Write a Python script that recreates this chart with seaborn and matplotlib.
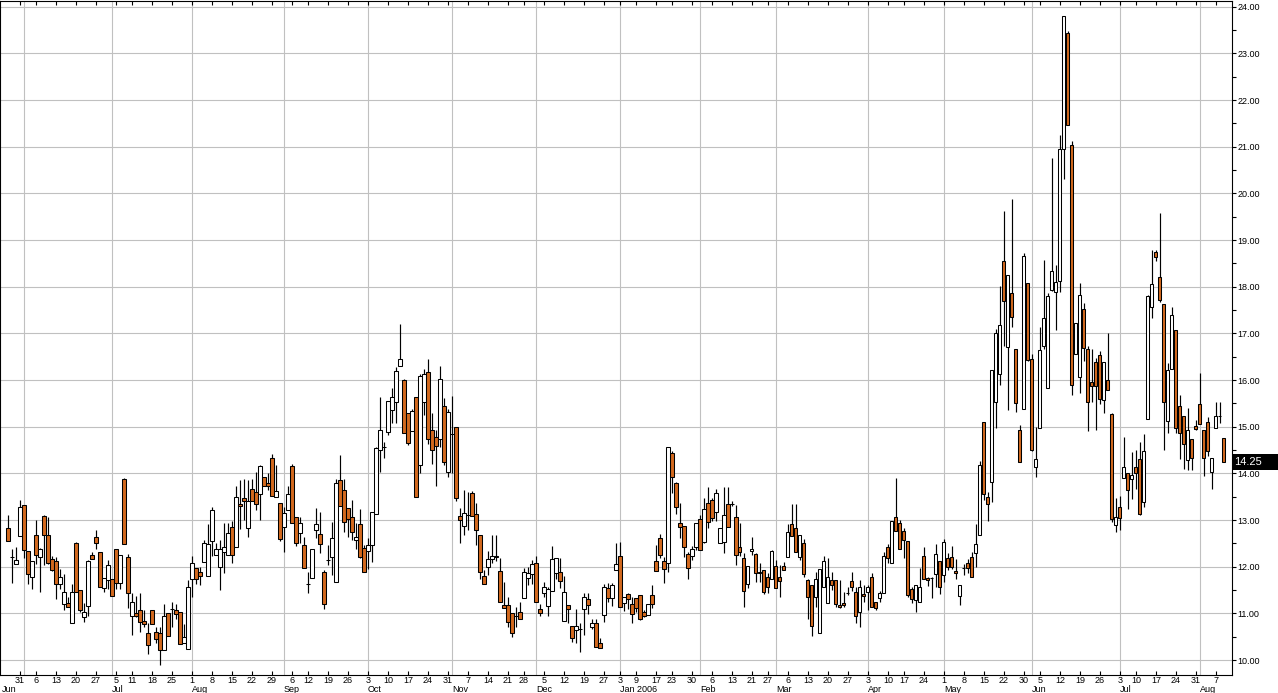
import numpy as np
import pandas as pd
import matplotlib
matplotlib.use("Agg")
import matplotlib.pyplot as plt
import seaborn as sns
from matplotlib.transforms import blended_transform_factory
from matplotlib.patches import Rectangle

# ---------------- data ----------------
start_date = "2005-05-25"
end_date = "2006-08-09"
holidays = ["2005-05-30", "2005-07-04", "2005-09-05", "2005-11-24", "2005-12-26",
            "2006-01-02", "2006-01-16", "2006-02-20", "2006-04-14", "2006-05-29",
            "2006-07-04"]

opens = [
    12.82, 12.21, 12.05, 12.66, 13.33, 12.33, 11.77, 12.67, 12.20, 13.08,
    12.67, 12.16, 12.12, 11.64, 11.21, 11.23, 10.80, 12.50, 11.51, 10.93,
    11.16, 12.26, 12.63, 12.31, 11.54, 11.72, 11.73, 12.39, 11.66, 13.89,
    12.21, 10.94, 11.01, 11.08, 10.84, 10.58, 11.08, 10.60, 10.57, 10.21,
    11.00, 11.10, 11.08, 11.02, 10.37, 10.23, 11.73, 11.98, 11.88, 12.11,
    11.81, 12.55, 12.25, 12.00, 12.32, 12.25, 12.86, 12.42, 13.34, 13.47,
    12.82, 13.66, 13.61, 13.55, 13.92, 13.79, 14.32, 13.49, 13.36, 12.85,
    13.22, 14.16, 13.06, 12.72, 12.46, 11.64, 11.75, 12.79, 12.71, 11.88,
    12.14, 12.21, 11.68, 13.86, 13.64, 13.25, 13.06, 12.57, 12.91, 12.41,
    12.34, 12.46, 13.14, 14.50, 14.57, 14.89, 15.36, 15.54, 16.31, 16.00,
    15.29, 14.91, 15.63, 14.18, 15.52, 16.17, 14.94, 14.79, 14.74, 15.44,
    14.02, 14.84, 14.99, 13.09, 12.87, 13.10, 13.59, 13.13, 12.67, 11.80,
    11.99, 12.17, 12.20, 11.91, 11.17, 11.17, 11.00, 10.94, 11.02, 11.32,
    11.75, 11.84, 12.07, 11.09, 11.43, 11.16, 11.47, 11.87, 11.89, 10.84,
    11.17, 10.74, 10.64, 10.67, 11.09, 11.30, 10.70, 10.80, 10.36, 10.97,
    11.54, 11.34, 11.94, 12.24, 11.22, 11.41, 11.20, 11.34, 11.39, 11.02,
    10.97, 11.39, 12.12, 12.61, 12.12, 12.09, 14.43, 13.79, 12.93, 12.88,
    12.27, 12.22, 12.43, 13.02, 12.52, 13.36, 13.42, 13.18, 12.50, 12.54,
    13.34, 13.34, 13.07, 12.42, 12.18, 11.63, 12.34, 12.27, 11.88, 11.92,
    11.77, 11.73, 12.02, 11.77, 12.02, 12.20, 12.91, 12.82, 12.20, 12.50,
    11.71, 11.61, 11.36, 10.57, 11.56, 11.22, 11.71, 11.71, 11.18, 11.22,
    11.44, 11.69, 11.45, 11.02, 11.41, 11.45, 11.79, 11.24, 11.32, 11.43,
    12.43, 12.07, 13.07, 12.93, 12.77, 12.55, 11.52, 11.29, 11.24, 12.24,
    11.75, 11.75, 11.84, 12.12, 11.82, 12.18, 12.20, 11.91, 11.38, 11.98,
    12.09, 12.20, 12.30, 12.69, 15.11, 13.49, 13.82, 15.54, 16.14, 18.55,
    16.70, 17.86, 16.66, 14.93, 15.39, 18.09, 16.46, 14.14, 14.97, 16.72,
    15.82, 17.92, 17.89, 18.13, 20.96, 23.44, 21.04, 16.56, 16.06, 17.52,
    16.67, 15.95, 16.39, 16.54, 15.57, 16.01, 15.27, 12.89, 13.27, 13.91,
    14.01, 13.89, 14.14, 14.31, 13.39, 15.16, 17.56, 18.74, 18.20, 17.62,
    15.12, 16.23, 17.08, 15.44, 15.22, 14.28, 14.74, 15.02, 15.49, 14.94,
    15.10, 14.02, 14.97, 15.22, 14.76,
]
highs = [
    13.11, 12.38, 12.43, 13.44, 13.33, 12.33, 12.13, 13.00, 12.41, 13.10,
    13.06, 12.23, 12.20, 11.95, 11.84, 11.36, 11.64, 12.52, 11.51, 11.23,
    12.14, 12.32, 12.79, 12.31, 11.75, 12.14, 11.73, 12.39, 12.26, 13.91,
    12.28, 11.43, 11.37, 11.43, 11.08, 10.80, 11.08, 10.71, 10.71, 11.20,
    11.00, 11.25, 11.21, 11.02, 10.78, 11.71, 12.23, 11.98, 12.00, 12.57,
    12.91, 13.28, 12.50, 12.57, 12.93, 12.93, 12.97, 13.72, 13.86, 13.87,
    13.86, 13.87, 14.04, 14.18, 13.92, 14.00, 14.41, 14.18, 13.36, 13.29,
    13.72, 14.20, 13.06, 13.06, 12.63, 11.89, 12.37, 13.25, 13.18, 11.93,
    12.46, 12.96, 13.89, 14.39, 13.87, 13.25, 13.44, 12.93, 13.23, 12.46,
    12.61, 13.18, 14.57, 15.63, 14.68, 15.55, 15.82, 16.27, 17.20, 16.02,
    15.29, 15.39, 15.63, 16.14, 16.23, 16.45, 15.29, 14.93, 16.30, 15.61,
    15.39, 15.66, 14.99, 13.25, 13.64, 13.61, 13.63, 13.36, 12.67, 11.93,
    12.34, 12.68, 12.68, 12.18, 11.68, 11.36, 11.00, 11.14, 11.24, 11.98,
    12.00, 12.14, 12.23, 11.20, 11.68, 11.57, 12.44, 12.19, 12.18, 11.80,
    11.17, 10.74, 11.09, 10.79, 11.43, 11.43, 10.89, 10.89, 10.47, 11.64,
    11.66, 11.66, 12.50, 12.52, 11.36, 11.44, 11.36, 11.34, 11.39, 11.07,
    11.20, 11.61, 12.46, 12.70, 12.21, 14.56, 14.49, 13.82, 13.37, 12.88,
    12.31, 12.44, 12.93, 13.11, 13.47, 13.70, 13.47, 13.66, 12.82, 13.71,
    13.71, 13.40, 13.32, 12.93, 12.29, 12.02, 12.63, 12.30, 12.07, 11.92,
    11.86, 12.36, 12.14, 12.04, 12.11, 12.92, 13.34, 13.34, 12.68, 12.59,
    11.73, 11.61, 11.89, 11.96, 12.22, 12.19, 11.89, 11.71, 11.71, 11.46,
    11.57, 11.89, 11.56, 11.72, 11.61, 11.61, 11.86, 11.24, 11.49, 12.32,
    12.49, 12.99, 13.90, 13.00, 12.84, 12.55, 11.56, 11.61, 11.97, 12.42,
    11.79, 11.79, 12.49, 12.12, 12.59, 12.29, 12.44, 12.16, 11.61, 12.06,
    12.16, 12.32, 12.91, 14.27, 15.11, 13.61, 16.21, 17.09, 18.01, 19.62,
    18.26, 19.88, 16.66, 15.04, 18.73, 18.09, 16.55, 14.99, 17.14, 18.57,
    17.86, 20.75, 18.46, 21.25, 23.81, 23.49, 21.13, 17.23, 18.09, 17.65,
    16.73, 16.66, 16.47, 16.62, 16.39, 17.00, 15.29, 13.48, 13.51, 14.77,
    14.01, 14.46, 14.51, 14.68, 14.85, 17.83, 18.79, 18.79, 19.58, 17.62,
    16.36, 17.57, 17.08, 15.69, 15.22, 15.40, 14.74, 15.14, 16.16, 14.94,
    15.20, 14.33, 15.54, 15.54, 14.76,
]
lows = [
    12.56, 11.66, 12.05, 12.66, 12.18, 11.64, 11.53, 12.05, 11.46, 12.03,
    12.05, 11.90, 11.31, 11.52, 11.07, 11.13, 10.80, 11.45, 11.02, 10.81,
    10.95, 12.16, 12.39, 11.56, 11.45, 11.53, 11.38, 11.53, 11.53, 12.48,
    11.11, 10.53, 10.92, 10.61, 10.71, 10.14, 10.77, 10.36, 9.89, 10.21,
    10.51, 10.70, 10.89, 10.34, 10.37, 10.23, 11.36, 11.64, 11.61, 12.11,
    11.81, 12.24, 12.25, 11.50, 11.87, 12.25, 12.07, 12.42, 12.80, 13.00,
    12.63, 13.41, 13.22, 13.00, 13.73, 13.64, 13.52, 13.49, 12.56, 12.32,
    13.22, 12.93, 12.44, 12.50, 11.97, 11.44, 11.75, 12.61, 12.29, 11.09,
    12.04, 11.82, 11.68, 13.31, 12.75, 12.64, 12.57, 12.39, 12.18, 11.89,
    11.96, 12.11, 13.14, 14.04, 14.32, 14.82, 15.07, 15.07, 16.31, 14.86,
    14.61, 14.91, 13.49, 14.00, 15.25, 14.63, 14.21, 13.73, 14.57, 14.18,
    13.93, 14.00, 13.40, 12.50, 12.68, 12.79, 13.09, 12.47, 11.74, 11.62,
    11.82, 12.07, 12.13, 11.24, 11.11, 10.70, 10.50, 10.70, 10.87, 11.32,
    11.61, 11.64, 11.25, 10.94, 11.36, 10.94, 11.47, 11.73, 11.54, 10.84,
    10.80, 10.38, 10.36, 10.17, 10.54, 10.99, 10.66, 10.27, 10.25, 10.82,
    11.25, 11.16, 11.94, 11.13, 11.06, 11.09, 10.80, 11.04, 10.86, 10.93,
    10.97, 11.11, 11.90, 12.18, 11.66, 11.89, 13.59, 13.13, 12.62, 12.20,
    11.73, 12.14, 12.36, 12.36, 12.50, 12.82, 12.97, 12.97, 12.50, 12.29,
    12.86, 13.30, 12.04, 12.22, 11.13, 11.54, 12.25, 11.68, 11.68, 11.42,
    11.43, 11.73, 11.54, 11.36, 11.92, 12.20, 12.66, 12.31, 12.14, 11.79,
    10.89, 10.52, 11.14, 10.57, 11.56, 11.22, 11.50, 11.13, 11.11, 11.14,
    11.39, 11.47, 10.80, 10.70, 11.25, 11.07, 11.13, 11.07, 11.25, 11.43,
    12.07, 12.07, 12.77, 12.37, 12.18, 11.36, 11.23, 11.04, 11.24, 11.73,
    11.59, 11.32, 11.57, 11.42, 11.68, 11.93, 11.96, 11.73, 11.18, 11.82,
    11.86, 11.77, 12.00, 12.69, 13.43, 12.99, 13.39, 14.97, 15.89, 16.73,
    15.36, 17.14, 15.32, 14.25, 15.39, 16.41, 14.49, 13.93, 14.97, 16.66,
    15.82, 17.90, 17.07, 17.89, 20.31, 21.46, 15.67, 16.56, 15.73, 16.40,
    14.90, 15.54, 14.93, 15.49, 15.29, 15.79, 12.95, 12.74, 12.78, 13.91,
    13.23, 13.45, 13.66, 13.10, 13.27, 15.16, 17.32, 18.55, 17.68, 14.51,
    14.87, 16.23, 14.86, 14.30, 14.10, 14.08, 14.08, 14.92, 15.06, 13.95,
    14.37, 13.67, 14.97, 15.08, 14.25,
]
closes = [
    12.56, 12.21, 12.14, 13.27, 12.35, 11.84, 12.13, 12.26, 12.37, 12.69,
    12.07, 11.94, 11.64, 11.77, 11.45, 11.13, 11.46, 11.45, 11.07, 11.03,
    12.12, 12.16, 12.50, 11.56, 11.75, 12.03, 11.38, 11.66, 12.26, 12.48,
    11.43, 11.25, 10.94, 10.82, 10.78, 10.32, 10.77, 10.45, 10.21, 10.95,
    10.51, 11.10, 10.98, 10.34, 10.50, 11.56, 12.07, 11.73, 11.81, 12.50,
    12.48, 13.21, 12.39, 12.37, 12.42, 12.73, 12.25, 13.50, 13.30, 13.41,
    13.41, 13.41, 13.34, 14.16, 13.73, 13.72, 13.52, 13.63, 12.59, 13.15,
    13.55, 12.93, 12.50, 12.93, 11.97, 11.64, 12.37, 12.91, 12.48, 11.21,
    12.14, 12.62, 13.79, 13.31, 12.95, 13.02, 12.75, 12.63, 12.21, 11.89,
    12.46, 13.18, 14.54, 14.94, 14.57, 15.55, 15.63, 16.20, 16.46, 14.86,
    14.66, 15.34, 13.49, 16.09, 16.14, 14.74, 14.51, 14.59, 16.02, 14.24,
    15.31, 14.84, 13.47, 13.00, 13.16, 13.10, 13.09, 12.79, 11.88, 11.62,
    12.16, 12.22, 12.24, 11.24, 11.11, 10.81, 10.59, 10.94, 10.87, 11.88,
    11.87, 12.05, 11.25, 11.00, 11.57, 11.52, 12.16, 12.19, 11.69, 11.45,
    11.09, 10.47, 10.72, 10.67, 11.36, 11.17, 10.79, 10.27, 10.25, 11.56,
    11.34, 11.61, 12.05, 11.13, 11.36, 11.31, 10.98, 11.11, 10.89, 10.95,
    11.20, 11.21, 11.91, 12.25, 11.96, 14.56, 13.92, 13.29, 12.86, 12.42,
    11.97, 12.37, 12.93, 12.36, 13.23, 12.96, 13.05, 13.57, 12.82, 13.11,
    12.86, 13.34, 12.25, 12.31, 11.48, 12.02, 12.39, 11.86, 11.86, 11.45,
    11.57, 12.34, 11.54, 11.70, 11.94, 12.74, 12.66, 12.31, 12.68, 11.84,
    11.36, 10.73, 11.73, 11.96, 12.12, 11.77, 11.61, 11.20, 11.14, 11.17,
    11.44, 11.56, 10.94, 11.56, 11.38, 11.56, 11.13, 11.11, 11.43, 12.24,
    12.18, 12.99, 12.77, 12.37, 12.57, 11.39, 11.30, 11.61, 11.57, 11.73,
    11.72, 11.75, 12.27, 11.57, 12.52, 12.00, 12.00, 11.86, 11.61, 11.98,
    11.98, 11.77, 12.48, 14.17, 13.56, 13.34, 16.21, 17.00, 17.17, 17.70,
    18.26, 17.36, 15.50, 14.25, 18.66, 16.43, 14.51, 14.30, 16.64, 17.34,
    17.80, 18.34, 18.11, 20.96, 23.81, 21.46, 15.89, 17.23, 17.83, 16.69,
    15.52, 15.88, 15.88, 15.60, 16.39, 15.79, 13.02, 13.07, 13.04, 14.14,
    13.64, 13.96, 14.00, 13.13, 14.48, 17.80, 18.05, 18.63, 17.72, 15.54,
    16.22, 17.40, 14.97, 14.87, 14.63, 14.94, 14.33, 14.95, 15.06, 14.33,
    14.47, 14.33, 15.22, 15.22, 14.25,
]

y_ticks = [10, 11, 12, 13, 14, 15, 16, 17, 18, 19, 20, 21, 22, 23, 24]
y_minor = [10.5, 11.5, 12.5, 13.5, 14.5, 15.5, 16.5, 17.5, 18.5, 19.5,
           20.5, 21.5, 22.5, 23.5]
down_color = "#D2691E"

# ---------------- dates / positions ----------------
dates = pd.bdate_range(start_date, end_date, freq="C", holidays=holidays)
n = min(len(dates), len(opens))
dates = dates[:n]
o = np.array(opens[:n]); h = np.array(highs[:n])
l = np.array(lows[:n]); c = np.array(closes[:n])
x = np.arange(n)

df = pd.DataFrame({"date": dates, "x": x})
df["week"] = df["date"].dt.to_period("W")
df["month"] = df["date"].dt.to_period("M")
week_first = df.groupby("week")["x"].min().values[1:]
week_labels = [str(dates[i].day) for i in week_first]
month_first = df.groupby("month")["x"].min().values[1:]
month_labels = [dates[i].strftime("%b") + (" %d" % dates[i].year if dates[i].month == 1 else "")
                for i in month_first]

# ---------------- style ----------------
sns.set_theme(style="white")
plt.rcParams["font.family"] = ["Liberation Sans", "DejaVu Sans"]

W, H = 1278, 693
fig = plt.figure(figsize=(W / 100, H / 100), dpi=100)
ax = fig.add_axes([0, 18 / H, 1231.5 / W, (675 - 0.5) / H])

XLIM = (-2, 305.9)
YLIM = (9.68, 24.133)

# grid
for yv in y_ticks:
    ax.axhline(yv, color="#C0C0C0", lw=0.8, zorder=0)
for m in month_first:
    ax.axvline(m, color="#C0C0C0", lw=0.8, zorder=0)

# candles
up = c >= o
body_lo = np.minimum(o, c)
body_h = np.abs(c - o)
ax.vlines(x, np.minimum(l, body_lo), np.maximum(h, body_lo + body_h),
          color="black", lw=0.85, zorder=2)
ax.bar(x, body_h, bottom=body_lo, width=0.78,
       color=np.where(up, "white", down_color), edgecolor="black",
       linewidth=0.75, zorder=3)

# axes styling
for sp in ax.spines.values():
    sp.set_color("black")
    sp.set_linewidth(0.8)
    sp.set_visible(True)

ax.yaxis.tick_right()
ax.set_yticks(y_ticks)
ax.set_yticklabels(["%.2f" % v for v in y_ticks])
ax.set_yticks(y_minor, minor=True)
ax.tick_params(axis="y", which="both", direction="out", length=3, width=0.8,
               labelsize=6.5, pad=1.5, colors="black", right=True, left=False)

ax.set_xticks(week_first)
ax.set_xticklabels(week_labels)
ax.tick_params(axis="x", which="major", direction="in", length=3, width=0.8,
               labelsize=6.5, pad=1, top=True, bottom=True, colors="black")

ax.set_xlim(*XLIM)
ax.set_ylim(*YLIM)

trans_m = blended_transform_factory(ax.transData, fig.transFigure)
for k, (m, lab) in enumerate(zip(month_first, month_labels)):
    xpos = XLIM[0] + 0.4 if k == 0 else m
    ax.text(xpos, 1 - 689 / H, lab, transform=trans_m, ha="left", va="center",
            fontsize=6.5, color="black", clip_on=False)

# last value box
last = c[-1]
trans_b = blended_transform_factory(ax.transAxes, ax.transData)
half = 8 / 46.67
ax.add_patch(Rectangle((1.0, last - half), W / 1231.5 - 1.0, 2 * half,
                       transform=trans_b, facecolor="black", edgecolor="none",
                       clip_on=False, zorder=5))
ax.text(1.0 + 3 / 1231.5, last, "%.2f" % last, transform=trans_b, ha="left",
        va="center", color="white", fontsize=8, clip_on=False, zorder=6)

fig.savefig("out.png", dpi=100)
